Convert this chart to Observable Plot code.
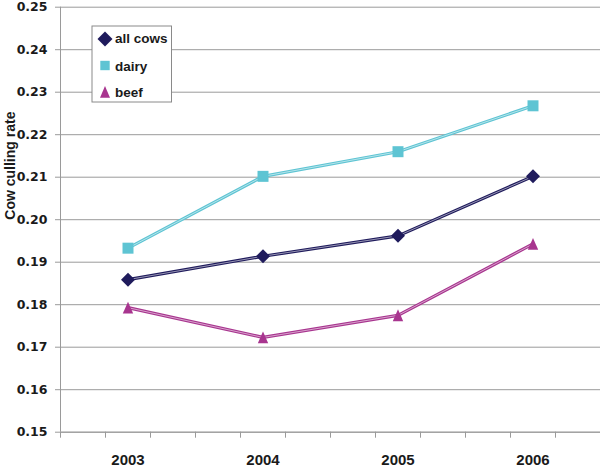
<!DOCTYPE html>
<html>
<head>
<meta charset="utf-8">
<script src="https://cdn.jsdelivr.net/npm/d3@7"></script>
<script src="https://cdn.jsdelivr.net/npm/@observablehq/plot@0.6"></script>
<style>
  html, body { margin: 0; padding: 0; background: #fff; }
  #chart svg { display: block; }
</style>
</head>
<body>
<div id="chart"></div>
<script>
const years = [2003, 2004, 2005, 2006];
const allCows = [0.1859, 0.1914, 0.1962, 0.2102];
const dairy = [0.1933, 0.2102, 0.2160, 0.2268];
const beef = [0.1793, 0.1723, 0.1775, 0.1943];
const seriesNames = ["all cows", "dairy", "beef"];
const seriesColors = ["#1f1b5c", "#5ec4d3", "#a8358f"];
const yTicks = [0.15, 0.16, 0.17, 0.18, 0.19, 0.20, 0.21, 0.22, 0.23, 0.24, 0.25];
const yLabel = "Cow culling rate";

const seriesValues = [allCows, dairy, beef];
const rows = seriesNames.map((name, i) => years.map((yr, j) => ({series: name, year: yr, value: seriesValues[i][j]})));

// minor x ticks: band edges and thirds of each year band
const xMinor = years.flatMap(y => [y - 0.5, y - 1/6, y + 1/6]).concat([years[years.length - 1] + 0.5]);

const diamondSym = {draw(c) { c.moveTo(0, -7); c.lineTo(7, 0); c.lineTo(0, 7); c.lineTo(-7, 0); c.closePath(); }};
const squareSym = {draw(c) { c.rect(-5.5, -5.5, 11, 11); }};
const triangleSym = {draw(c) { c.moveTo(0, -6); c.lineTo(5.2, 5.8); c.lineTo(-5.2, 5.8); c.closePath(); }};
const symbols = [diamondSym, squareSym, triangleSym];

const grid = "#9a9a9a";
const font = "'Liberation Sans', Arial, sans-serif";

const marks = [
  Plot.gridY(yTicks, {stroke: grid, strokeOpacity: 1, strokeWidth: 1}),
  Plot.ruleX([years[0] - 0.5], {stroke: grid, strokeWidth: 1}),
  Plot.ruleY([yTicks[0]], {stroke: grid, strokeWidth: 1}),
  Plot.axisY({ticks: yTicks, tickSize: 5, tickPadding: 8, stroke: grid, tickFormat: d3.format(".2f"),
    fontSize: 12.5, fontWeight: "bold", fontFamily: "'DejaVu Sans', sans-serif", fill: "#1a1a1a", label: null}),
  Plot.axisX({ticks: xMinor, tickSize: 6, stroke: grid, tickFormat: () => "", label: null}),
  Plot.axisX({ticks: years, tickSize: 0, tickPadding: 22, tickFormat: d => String(d),
    fontSize: 15, fontWeight: "bold", fontFamily: font, fill: "#1a1a1a", label: null}),
  Plot.text([yLabel], {frameAnchor: "left", rotate: -90, dx: -50, fontSize: 14, fontWeight: "bold",
    fontFamily: font, fill: "#1a1a1a"})
];

rows.forEach((r, i) => {
  marks.push(Plot.line(r, {x: "year", y: "value", stroke: seriesColors[i], strokeWidth: 3.2}));
  marks.push(Plot.line(r, {x: "year", y: "value", stroke: "#ffffff", strokeOpacity: 0.55, strokeWidth: 1}));
});
rows.forEach((r, i) => {
  marks.push(Plot.dot(r, {x: "year", y: "value", symbol: symbols[i], fill: seriesColors[i], stroke: "none"}));
});

const svg = Plot.plot({
  width: 600,
  height: 467,
  marginLeft: 60,
  marginRight: 0,
  marginTop: 6.7,
  marginBottom: 35.3,
  x: {type: "linear", domain: [years[0] - 0.5, years[years.length - 1] + 0.5]},
  y: {domain: [yTicks[0], yTicks[yTicks.length - 1]]},
  style: {background: "#fff", overflow: "visible"},
  marks
});

// legend box
const lg = d3.select(svg).append("g").attr("text-anchor", "start");
lg.append("rect").attr("x", 92).attr("y", 26).attr("width", 79.5).attr("height", 76)
  .attr("fill", "#fff").attr("stroke", "#8a8a8a").attr("stroke-width", 1);
const legendRows = [{cy: 39, by: 43.3}, {cy: 65.5, by: 71}, {cy: 92, by: 96.7}];
const legendSymPaths = [
  "M0,-7.5L7.5,0L0,7.5L-7.5,0Z",
  "M-4.7,-4.7H4.7V4.7H-4.7Z",
  "M0,-6L5,5.8L-5,5.8Z"
];
seriesNames.forEach((name, i) => {
  lg.append("path").attr("d", legendSymPaths[i])
    .attr("transform", `translate(105,${legendRows[i].cy})`).attr("fill", seriesColors[i]);
  lg.append("text").attr("x", 115).attr("y", legendRows[i].by).text(name)
    .attr("text-anchor", "start")
    .attr("font-family", font).attr("font-weight", "bold").attr("font-size", 13.5).attr("fill", "#1a1a1a");
});

document.getElementById("chart").appendChild(svg);
</script>
</body>
</html>
